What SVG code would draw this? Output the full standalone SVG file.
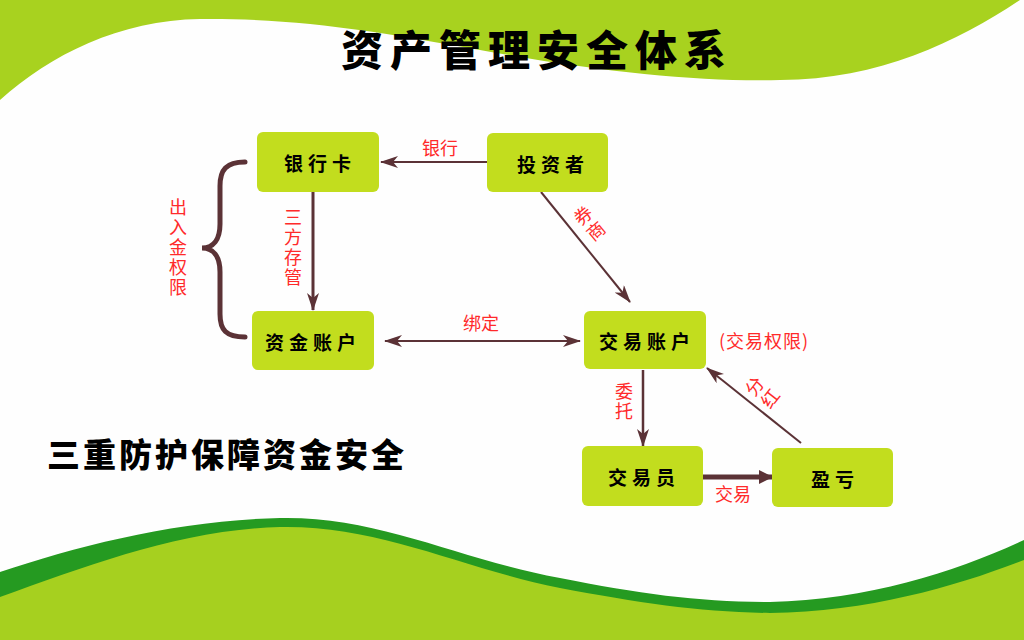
<svg xmlns="http://www.w3.org/2000/svg" width="1024" height="640" viewBox="0 0 1024 640">
  <defs>
    <marker id="barb" markerUnits="userSpaceOnUse" viewBox="0 0 18 12" refX="17" refY="6" markerWidth="18" markerHeight="12" orient="auto-start-reverse">
      <path d="M0,0 L18,6 L0,12 L5,6 Z" fill="#5b3236"/>
    </marker>
    <marker id="tri" markerUnits="userSpaceOnUse" viewBox="0 0 14 14" refX="13" refY="7" markerWidth="14" markerHeight="14" orient="auto">
      <path d="M0,0 L14,7 L0,14 Z" fill="#5b3236"/>
    </marker>
    <style>
      .node rect { fill: #c2dd1e; }
      .node text { font-family: "Noto Sans CJK SC", "Noto Sans", sans-serif; font-weight: bold; font-size: 19px; fill: #000; text-anchor: middle; dominant-baseline: central; letter-spacing: 5px; }
      .conn { stroke: #5b3236; fill: none; }
      .lbl { font-family: "Noto Sans CJK SC", "Noto Sans", sans-serif; font-size: 18px; fill: #ff2a2a; text-anchor: middle; dominant-baseline: central; }
      .vert { writing-mode: vertical-rl; letter-spacing: 2px; }
      .big { font-family: "Noto Sans CJK SC", sans-serif; font-weight: 900; fill: #000; text-anchor: middle; dominant-baseline: central; }
    </style>
  </defs>

  <rect x="0" y="0" width="1024" height="640" fill="#fefefe"/>

  <!-- top green band -->
  <path d="M0,0 L1024,0 L1020,0 C960,40 880,80 780,80 C700,82 600,72 480,50 C380,32 300,18 200,19 C120,20 50,55 0,100 Z" fill="#a8d21f"/>

  <!-- bottom waves -->
  <path d="M0,572 C80,545 180,520 280,518 C380,516 460,560 560,578 C640,594 700,602 770,602 C870,600 960,570 1024,540 L1024,640 L0,640 Z" fill="#259a21"/>
  <path d="M0,597 C90,565 180,530 280,527 C380,525 460,568 560,588 C640,603 700,612 770,613 C870,612 960,585 1024,560 L1024,640 L0,640 Z" fill="#a6d01f"/>

  <!-- title -->
  <text class="big" x="537" y="47" font-size="42" letter-spacing="7">资产管理安全体系</text>
  <text class="big" x="227" y="453" font-size="33" letter-spacing="3">三重防护保障资金安全</text>

  <!-- connectors -->
  <g id="connectors">
    <line class="conn" x1="487" y1="162" x2="381" y2="162" stroke-width="2" marker-end="url(#barb)"/>
    <line class="conn" x1="313" y1="192" x2="313" y2="310" stroke-width="3" marker-end="url(#barb)"/>
    <line class="conn" x1="385" y1="341" x2="580" y2="341" stroke-width="2" marker-start="url(#barb)" marker-end="url(#barb)"/>
    <line class="conn" x1="541" y1="192" x2="630" y2="302" stroke-width="2" marker-end="url(#barb)"/>
    <line class="conn" x1="643" y1="370" x2="643" y2="446" stroke-width="2.5" marker-end="url(#barb)"/>
    <line class="conn" x1="703" y1="477" x2="772" y2="477" stroke-width="5" marker-end="url(#tri)"/>
    <line class="conn" x1="801" y1="443" x2="707" y2="368" stroke-width="2" marker-end="url(#barb)"/>
    <path class="conn" d="M245,162 C226,162 220,170 220,186 L220,224 C220,240 213,248 202,248 C213,248 220,256 220,272 L220,314 C220,330 226,337 245,337" stroke="#4b2b2d" stroke-width="5" stroke-linecap="round"/>
  </g>

  <!-- labels -->
  <text class="lbl" x="440" y="147">银行</text>
  <text class="lbl vert" x="293" y="248">三方存管</text>
  <text class="lbl vert" x="178" y="248" font-size="20">出入金权限</text>
  <text class="lbl" x="481" y="322">绑定</text>
  <text class="lbl vert" transform="translate(590,224) rotate(-40)" x="0" y="0">券商</text>
  <text class="lbl" x="764" y="340" font-size="19" letter-spacing="1">(交易权限)</text>
  <text class="lbl vert" x="624" y="402">委托</text>
  <text class="lbl vert" transform="translate(763,393) rotate(-52)" x="0" y="0">分红</text>
  <text class="lbl" x="733" y="493">交易</text>

  <!-- nodes -->
  <g id="node-bankcard" class="node">
    <rect x="257" y="132" width="122" height="60" rx="6"/>
    <text x="320" y="162">银行卡</text>
  </g>
  <g id="node-investor" class="node">
    <rect x="487" y="133" width="121" height="59" rx="6"/>
    <text x="553" y="163">投资者</text>
  </g>
  <g id="node-fund-account" class="node">
    <rect x="252" y="311" width="122" height="59" rx="6"/>
    <text x="313" y="341">资金账户</text>
  </g>
  <g id="node-trade-account" class="node">
    <rect x="584" y="311" width="122" height="58" rx="6"/>
    <text x="647" y="340">交易账户</text>
  </g>
  <g id="node-trader" class="node">
    <rect x="582" y="446" width="121" height="60" rx="6"/>
    <text x="644" y="476">交易员</text>
  </g>
  <g id="node-pnl" class="node">
    <rect x="772" y="448" width="121" height="59" rx="6"/>
    <text x="835" y="478">盈亏</text>
  </g>
</svg>
